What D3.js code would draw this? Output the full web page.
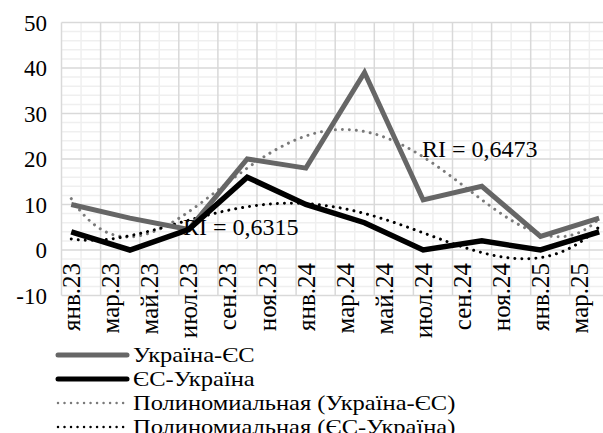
<!DOCTYPE html>
<html>
<head>
<meta charset="utf-8">
<script src="https://cdn.jsdelivr.net/npm/d3@7"></script>
<style>
  body { margin: 0; background: #fff; }
</style>
</head>
<body>
<svg id="chart" width="603" height="433" font-family="'Liberation Serif', 'Times New Roman', serif"></svg>
<script>
// month bands of the date axis
var months = ["янв.23","фев.23","мар.23","апр.23","май.23","июн.23","июл.23","авг.23","сен.23","окт.23","ноя.23","дек.23",
              "янв.24","фев.24","мар.24","апр.24","май.24","июн.24","июл.24","авг.24","сен.24","окт.24","ноя.24","дек.24",
              "янв.25","фев.25","мар.25","апр.25"];
var tickLabels = ["янв.23","мар.23","май.23","июл.23","сен.23","ноя.23","янв.24","мар.24","май.24","июл.24","сен.24","ноя.24","янв.25","мар.25"];
var yTicks = [-10, 0, 10, 20, 30, 40, 50];

// quarterly observations
var pointMonths = ["янв.23","апр.23","июл.23","окт.23","янв.24","апр.24","июл.24","окт.24","янв.25","апр.25"];
var uaEu = [10, 7, 4.5, 20, 18, 39, 11, 14, 3, 7];
var euUa = [4, 0, 4.5, 16, 10, 6, 0, 2, 0, 4];

var seriesNames = ["Україна-ЄС", "ЄС-Україна", "Полиномиальная (Україна-ЄС)", "Полиномиальная (ЄС-Україна)"];
var r2Labels = ["RI = 0,6473", "RI = 0,6315"];

var svg = d3.select("#chart");
var left = 61.5, bandW = 19.55;

var x = d3.scaleBand().domain(months).range([left, left + months.length * bandW]);
var y = d3.scaleLinear().domain([-10, 50]).range([295.5, 22.5]);

/* least squares polynomial, x = 1..n like the spreadsheet does */
function polyFit (vals, deg) {
    var n = vals.length, m = deg + 1;
    var A = [], b = [];
    for (var r = 0; r < m; r++) {
        A.push(new Array(m).fill(0));
        b.push(0);
    }
    for (var i = 0; i < n; i++) {
        var t = (i + 1) - (n + 1) / 2;
        for (var r = 0; r < m; r++) {
            b[r] += vals[i] * Math.pow(t, r);
            for (var c = 0; c < m; c++) A[r][c] += Math.pow(t, r + c);
        }
    }
    for (var k = 0; k < m; k++) {
        var p = k;
        for (var r = k + 1; r < m; r++) if (Math.abs(A[r][k]) > Math.abs(A[p][k])) p = r;
        var tmp = A[k]; A[k] = A[p]; A[p] = tmp;
        tmp = b[k]; b[k] = b[p]; b[p] = tmp;
        for (var r = k + 1; r < m; r++) {
            var f = A[r][k] / A[k][k];
            for (var c = k; c < m; c++) A[r][c] -= f * A[k][c];
            b[r] -= f * b[k];
        }
    }
    var coef = new Array(m).fill(0);
    for (var k = m - 1; k >= 0; k--) {
        var s = b[k];
        for (var c = k + 1; c < m; c++) s -= A[k][c] * coef[c];
        coef[k] = s / A[k][k];
    }
    return function (xi) {
        var t = xi - (n + 1) / 2, s = 0;
        for (var k = 0; k < m; k++) s += coef[k] * Math.pow(t, k);
        return s;
    };
}

// gridlines
var grid = svg.append("g");
var xEnd = x.range()[1];
d3.range(-10, 50.01, 2).forEach(function (v) {
    if (v % 10 == 0) return;
    grid.append("line").attr("x1", left).attr("x2", xEnd)
        .attr("y1", y(v)).attr("y2", y(v)).attr("stroke", "#efefef").attr("stroke-width", 1.5);
});
months.forEach(function (mo, i) {
    if (i % 2 == 0) return;
    grid.append("line").attr("x1", x(mo)).attr("x2", x(mo))
        .attr("y1", y(50)).attr("y2", y(-10)).attr("stroke", "#efefef").attr("stroke-width", 1.5);
});
yTicks.forEach(function (v) {
    grid.append("line").attr("x1", left).attr("x2", xEnd)
        .attr("y1", y(v)).attr("y2", y(v)).attr("stroke", "#d9d9d9").attr("stroke-width", 1.5);
});
months.forEach(function (mo, i) {
    if (i % 2 == 1) return;
    grid.append("line").attr("x1", x(mo)).attr("x2", x(mo))
        .attr("y1", y(50)).attr("y2", y(-10)).attr("stroke", "#d9d9d9").attr("stroke-width", 1.5);
});
grid.append("line").attr("x1", xEnd).attr("x2", xEnd)
    .attr("y1", y(50)).attr("y2", y(-10)).attr("stroke", "#d9d9d9").attr("stroke-width", 1.5);

// y axis labels
svg.append("g").selectAll("text").data(yTicks).join("text")
    .attr("x", 47).attr("y", function (d) { return y(d); })
    .attr("dy", "0.35em").attr("text-anchor", "end")
    .attr("font-size", 23).attr("fill", "#000")
    .text(function (d) { return d; });

// x axis labels next to zero line
svg.append("g").selectAll("text").data(tickLabels).join("text")
    .attr("transform", function (d) {
        return "translate(" + (x(d) + x.bandwidth() / 2) + "," + (y(0) + 13) + ") rotate(-90)";
    })
    .attr("dy", "0.35em").attr("text-anchor", "end")
    .attr("font-size", 25).attr("fill", "#000")
    .text(function (d) { return d; });

var px = function (i) { return x(pointMonths[i]) + x.bandwidth() / 2; };
var line = d3.line().x(function (d, i) { return px(i); }).y(function (d) { return y(d); });

// 4th order trend lines
var step = 3 * bandW;
[[uaEu, "#7a7a7a"], [euUa, "#000"]].forEach(function (s) {
    var fit = polyFit(s[0], 4);
    var pts = d3.range(1, s[0].length + 0.001, 0.05);
    svg.append("path")
        .attr("d", d3.line().x(function (t) { return px(0) + (t - 1) * step; })
                            .y(function (t) { return y(fit(t)); })(pts))
        .attr("fill", "none").attr("stroke", s[1]).attr("stroke-width", 3)
        .attr("stroke-linecap", "round").attr("stroke-dasharray", "0.01 7");
});

svg.append("path").attr("d", line(uaEu)).attr("fill", "none")
    .attr("stroke", "#666").attr("stroke-width", 5).attr("stroke-linejoin", "miter");
svg.append("path").attr("d", line(euUa)).attr("fill", "none")
    .attr("stroke", "#000").attr("stroke-width", 5.5).attr("stroke-linejoin", "miter");

// R2 labels
svg.append("text").attr("x", 422).attr("y", 157).attr("font-size", 24).attr("fill", "#000")
    .text(r2Labels[0]);
svg.append("text").attr("x", 183).attr("y", 235).attr("font-size", 24).attr("fill", "#000")
    .text(r2Labels[1]);

// legend
var legend = svg.append("g");
var styles = [
    { color: "#666", width: 5, dash: null },
    { color: "#000", width: 5, dash: null },
    { color: "#7a7a7a", width: 2.5, dash: "0.01 6.5" },
    { color: "#000", width: 2.5, dash: "0.01 6.5" }
];
seriesNames.forEach(function (name, i) {
    var ly = 355 + i * 24;
    legend.append("line").attr("x1", 58).attr("x2", 127).attr("y1", ly).attr("y2", ly)
        .attr("stroke", styles[i].color).attr("stroke-width", styles[i].width)
        .attr("stroke-linecap", "round").attr("stroke-dasharray", styles[i].dash);
    // glyphs in the source are a bit wider than tall
    legend.append("text").attr("transform", "translate(133," + ly + ") scale(1.14,1)")
        .attr("dy", "0.33em")
        .attr("font-size", 21.5).attr("fill", "#000").text(name);
});
</script>
</body>
</html>
